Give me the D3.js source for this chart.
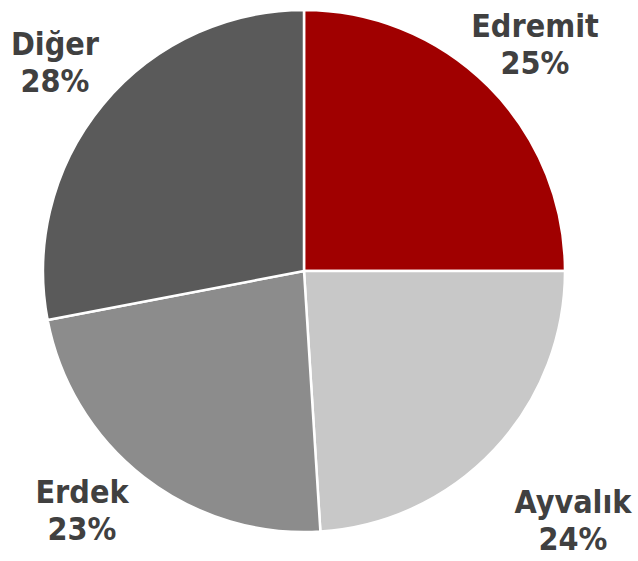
<!DOCTYPE html>
<html>
<head>
<meta charset="utf-8">
<script src="https://cdn.jsdelivr.net/npm/d3@7"></script>
<style>
  html, body { margin: 0; padding: 0; background: #fff; }
  svg { display: block; }
</style>
</head>
<body>
<svg id="chart" width="638" height="561"></svg>
<script>
'use strict';

// Slice data, clockwise from 12 o'clock
const regions = ['Edremit', 'Ayvalık', 'Erdek', 'Diğer'];
const shares  = [25, 24, 23, 28];
const colors  = ['#a00000', '#c8c8c8', '#8c8c8c', '#5a5a5a'];

// Label anchor (first-line baseline) for each slice
const labelAt = [[535, 37], [573, 513], [82, 503], [55, 55]];

const W = 638, H = 561;
const cx = 304, cy = 271, R = 261;

const svg = d3.select('#chart');
const g = svg.append('g').attr('transform', `translate(${cx},${cy})`);

const pie = d3.pie().sort(null).value(d => d.v);
const arc = d3.arc().innerRadius(0).outerRadius(R);

const data = regions.map((name, i) => ({ name, v: shares[i], color: colors[i] }));
const arcs = pie(data);

g.selectAll('path.slice')
  .data(arcs)
  .enter().append('path')
  .attr('class', 'slice')
  .attr('d', arc)
  .attr('fill', d => d.data.color)
  .attr('stroke', '#fff')
  .attr('stroke-width', 2.5)
  .attr('stroke-linejoin', 'round');

// Labels: name over percentage
const labels = svg.selectAll('text.lbl')
  .data(arcs)
  .enter().append('text')
  .attr('class', 'lbl')
  .attr('text-anchor', 'middle')
  .attr('font-family', '"DejaVu Sans Condensed", "DejaVu Sans", Verdana, sans-serif')
  .style('font-stretch', 'condensed')
  .attr('font-weight', 'bold')
  .attr('font-size', 32)
  .attr('fill', '#404040');

labels.append('tspan')
  .attr('x', (d, i) => labelAt[i][0])
  .attr('y', (d, i) => labelAt[i][1])
  .text(d => d.data.name);

labels.append('tspan')
  .attr('x', (d, i) => labelAt[i][0])
  .attr('y', (d, i) => labelAt[i][1] + 37)
  .text(d => `${d.data.v}%`);
</script>
</body>
</html>
